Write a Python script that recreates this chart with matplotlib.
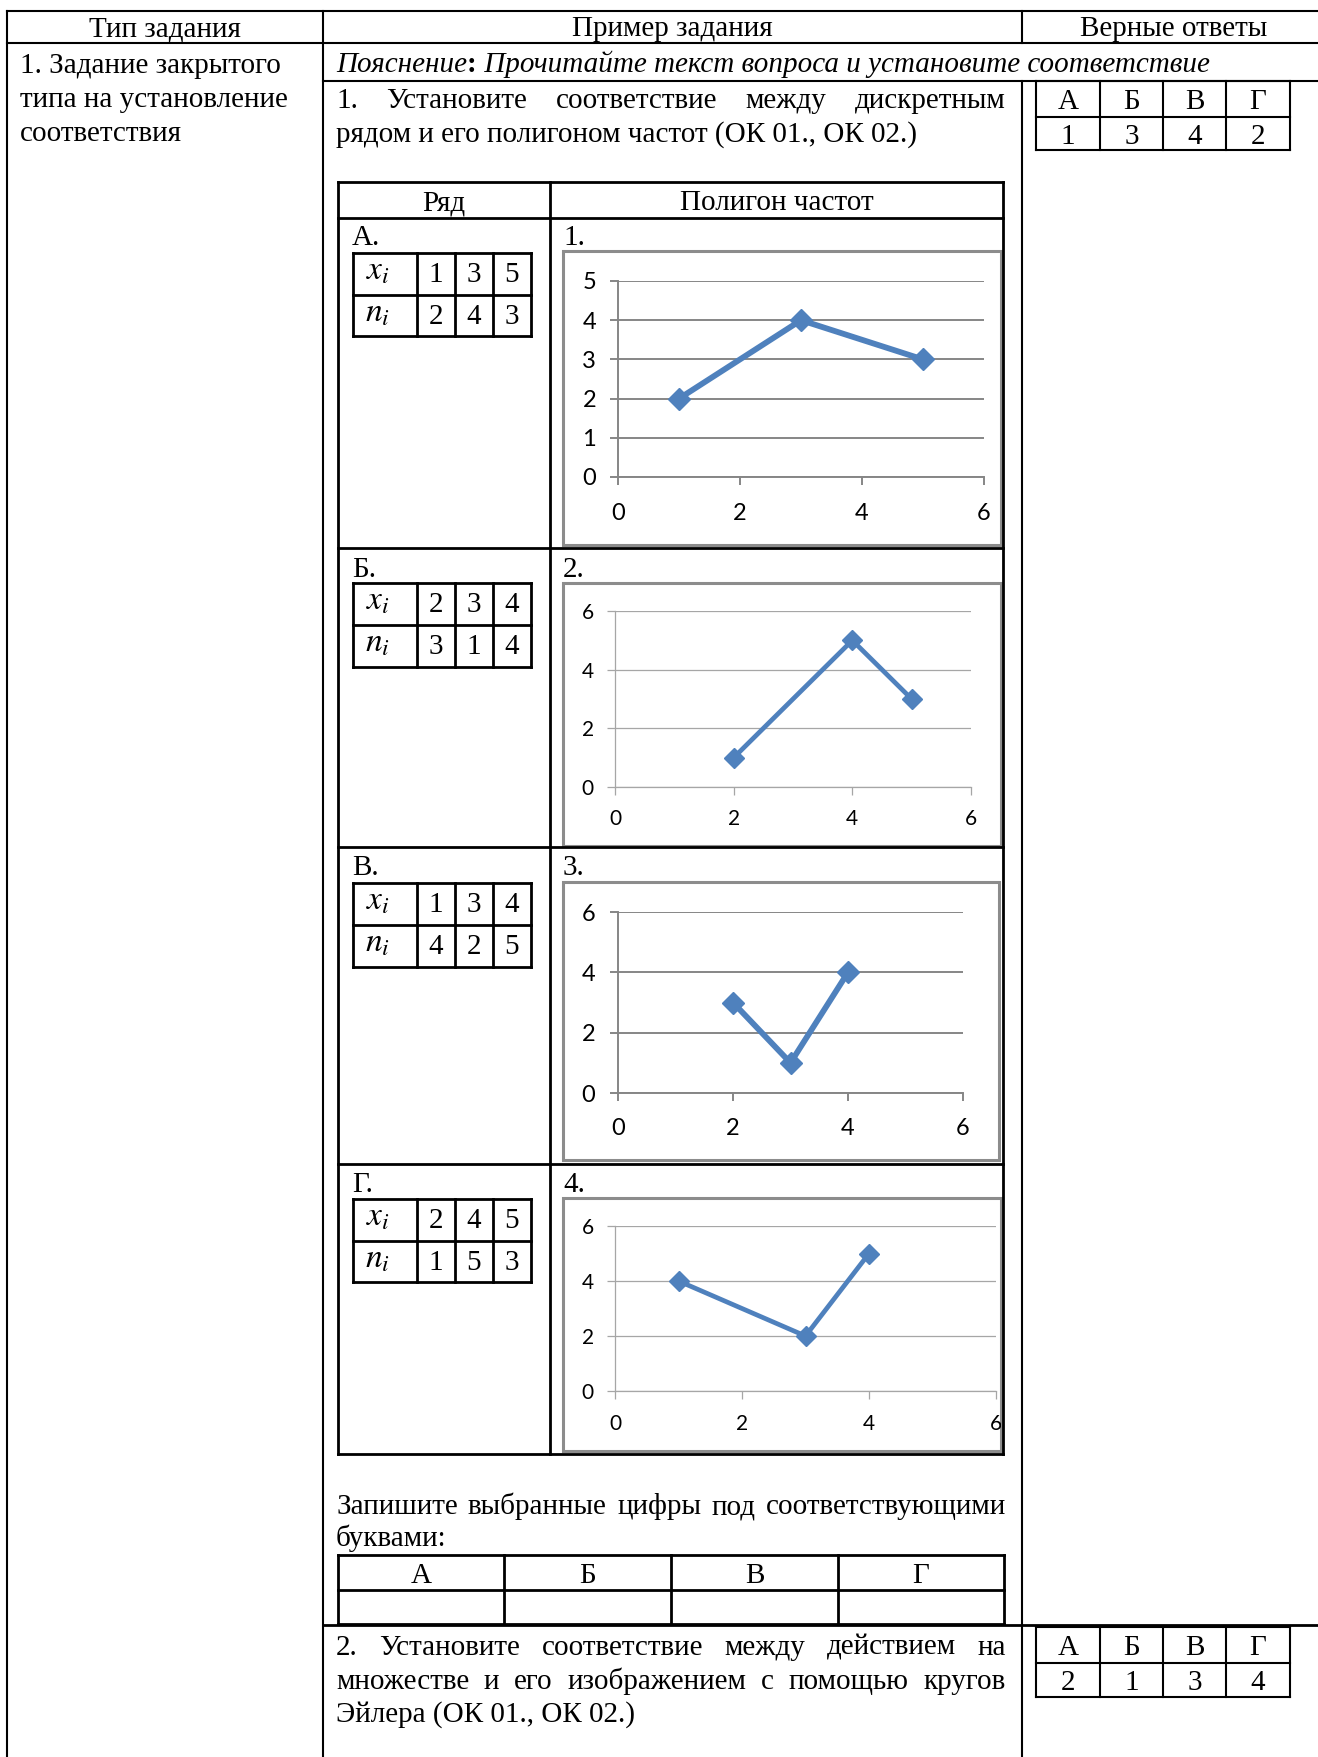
import matplotlib
matplotlib.use('Agg')
import matplotlib.pyplot as plt
from matplotlib.patches import Rectangle

W, H = 1318, 1757
plt.rcParams['mathtext.fontset'] = 'stix'
SERIF = 'Liberation Serif'
CHART_FONT = 'Lato'
FS = 21

# ---------------- data ----------------
letters = ['А', 'Б', 'В', 'Г']
task1_answers = [1, 3, 4, 2]
task2_answers = [2, 1, 3, 4]

row_labels = ['А.', 'Б.', 'В.', 'Г.']
poly_labels = ['1.', '2.', '3.', '4.']

row_a_x = [1, 3, 5]
row_a_n = [2, 4, 3]
row_b_x = [2, 3, 4]
row_b_n = [3, 1, 4]
row_v_x = [1, 3, 4]
row_v_n = [4, 2, 5]
row_g_x = [2, 4, 5]
row_g_n = [1, 5, 3]

poly1_x = [1, 3, 5]
poly1_y = [2, 4, 3]
poly2_x = [2, 4, 5]
poly2_y = [1, 5, 3]
poly3_x = [2, 3, 4]
poly3_y = [3, 1, 4]
poly4_x = [1, 3, 4]
poly4_y = [4, 2, 5]

x_ticks = [0, 2, 4, 6]
poly1_yticks = [0, 1, 2, 3, 4, 5]
poly_yticks = [0, 2, 4, 6]

# ---------------- figure ----------------
fig = plt.figure(figsize=(W / 100, H / 100), dpi=100)
bg = fig.add_axes([0, 0, 1, 1])
bg.set_xlim(0, W)
bg.set_ylim(H, 0)
bg.axis('off')
renderer = fig.canvas.get_renderer()


def hline(y, x0, x1, lw=1.5, color='black'):
    bg.plot([x0, x1], [y, y], color=color, lw=lw, solid_capstyle='projecting')


def vline(x, y0, y1, lw=1.5, color='black'):
    bg.plot([x, x], [y0, y1], color=color, lw=lw, solid_capstyle='projecting')


def txt(x, y, s, ha='left', size=FS, style='normal', weight='normal'):
    return bg.text(x, y, s, ha=ha, va='baseline', fontsize=size, family=SERIF,
                   style=style, weight=weight, color='black')


def width(t):
    return t.get_window_extent(renderer).width


def justify(words, x0, x1, y, size=FS):
    ts = [txt(0, y, w, size=size) for w in words]
    ws = [width(t) for t in ts]
    gap = (x1 - x0 - sum(ws)) / (len(words) - 1)
    x = x0
    for t, w in zip(ts, ws):
        t.set_x(x)
        x += w + gap


def grid_table(xs, ys, lw=1.5):
    for y in ys:
        hline(y, xs[0], xs[-1], lw)
    for x in xs:
        vline(x, ys[0], ys[-1], lw)


# ---------------- outer table ----------------
X_L, X_C1, X_C2 = 7, 323, 1022
hline(11, X_L, W)
hline(43, X_L, W)
vline(X_L, 11, H)
vline(X_C1, 11, H)
vline(X_C2, 11, 43)
vline(X_C2, 81, H)
hline(81, X_C1, W)
hline(1625, X_C1, W, lw=2)

txt(165, 36, 'Тип задания', ha='center')
txt(672, 36, 'Пример задания', ha='center')
txt(1174, 36, 'Верные ответы', ha='center')

txt(20, 73, '1. Задание закрытого')
txt(20, 107, 'типа на установление')
txt(20, 141, 'соответствия')

# Пояснение line
t1 = txt(336, 72, 'Пояснение', style='italic')
x = 336 + width(t1)
t2 = txt(x, 72, ':', weight='bold')
x += width(t2)
txt(x, 72, ' Прочитайте текст вопроса и установите соответствие', style='italic')

justify(['1.', 'Установите', 'соответствие', 'между', 'дискретным'], 336, 1006, 108)
txt(336, 142, 'рядом и его полигоном частот (ОК 01., ОК 02.)')

# answer tables
ans_x = [1036, 1100, 1163, 1226, 1290]


def answer_table(y0, y1, y2, values):
    grid_table(ans_x, [y0, y1, y2])
    for i in range(4):
        cx = (ans_x[i] + ans_x[i + 1]) / 2
        txt(cx, (y0 + y1) / 2 + 10, letters[i], ha='center')
        txt(cx, (y1 + y2) / 2 + 10, str(values[i]), ha='center')


answer_table(81, 117, 150, task1_answers)
answer_table(1627, 1663, 1697, task2_answers)

# ---------------- inner table ----------------
IT_X = [338, 550, 1003]
IT_TOP, IT_HEAD = 182, 218
row_tops = [218, 548, 847, 1164]
IT_BOT = 1454
ILW = 2.0
for y in [IT_TOP, IT_HEAD] + row_tops[1:] + [IT_BOT]:
    hline(y, IT_X[0], IT_X[2], ILW)
for xx in IT_X:
    vline(xx, IT_TOP, IT_BOT, ILW)
txt((IT_X[0] + IT_X[1]) / 2, 210, 'Ряд', ha='center')
txt((IT_X[1] + IT_X[2]) / 2, 210, 'Полигон частот', ha='center')

label_baselines = [245, 577, 875, 1192]
small_tops = [253, 583, 883, 1199]
small_h = [83, 84, 84, 83]
row_x_data = [row_a_x, row_b_x, row_v_x, row_g_x]
row_n_data = [row_a_n, row_b_n, row_v_n, row_g_n]
ST_X = [353, 417, 455, 493, 531]

for i in range(4):
    txt(352, label_baselines[i], row_labels[i])
    txt(563, label_baselines[i], poly_labels[i])
    top = small_tops[i]
    mid = top + small_h[i] / 2
    bot = top + small_h[i]
    grid_table(ST_X, [top, mid, bot], lw=2.0)
    txt(366, top + 27, r'$x_i$', size=24)
    txt(365, mid + 27, r'$n_i$', size=24)
    for j in range(3):
        cx = (ST_X[j + 1] + ST_X[j + 2]) / 2
        txt(cx, top + 29, str(row_x_data[i][j]), ha='center')
        txt(cx, mid + 29, str(row_n_data[i][j]), ha='center')

# ---------------- charts ----------------
boxes = [(563, 251, 1001, 545), (563, 583, 1001, 846),
         (563, 882, 999, 1160), (563, 1198, 1001, 1451)]
for (bx0, by0, bx1, by1) in boxes:
    bg.add_patch(Rectangle((bx0, by0), bx1 - bx0, by1 - by0, fill=False,
                           edgecolor='#8C8C8C', lw=2.2))

BLUE = '#4F81BD'


def make_chart(px0, px6, py0, pytop, ymax, yticks, xs, ys, gcol, glw,
               lsize, llw, ms, xpad, ypad, box):
    ax = fig.add_axes([px0 / W, 1 - py0 / H, (px6 - px0) / W, (py0 - pytop) / H])
    ax.set_facecolor('none')
    ax.set_xlim(0, 6)
    ax.set_ylim(0, ymax)
    ax.set_xticks(x_ticks)
    ax.set_yticks(yticks)
    ax.grid(axis='y', color=gcol, lw=glw)
    ax.set_axisbelow(True)
    for s in ['top', 'right']:
        ax.spines[s].set_visible(False)
    for s in ['left', 'bottom']:
        ax.spines[s].set_color(gcol)
        ax.spines[s].set_linewidth(glw)
    ax.tick_params(axis='both', direction='out', length=5.8, width=glw,
                   color=gcol, labelsize=lsize, labelcolor='black',
                   labelfontfamily=CHART_FONT)
    ax.tick_params(axis='x', pad=xpad)
    ax.tick_params(axis='y', pad=ypad)
    ax.plot(xs, ys, color=BLUE, lw=llw, marker='D', ms=ms, clip_on=False,
            zorder=5)
    clip = Rectangle((box[0], box[1]), box[2] - box[0], box[3] - box[1],
                     transform=bg.transData)
    for lbl in ax.get_xticklabels() + ax.get_yticklabels():
        lbl.set_clip_path(clip)
    return ax


make_chart(618, 984, 477, 281, 5, poly1_yticks, poly1_x, poly1_y,
           '#868686', 1.4, 17, 4.2, 11, 13, 10, boxes[0])
make_chart(615, 971, 787, 611, 6, poly_yticks, poly2_x, poly2_y,
           '#A6A6A6', 0.9, 15, 3.4, 10, 10, 9.5, boxes[1])
make_chart(618, 963, 1093, 912, 6, poly_yticks, poly3_x, poly3_y,
           '#868686', 1.4, 17, 4.2, 11, 12.5, 10.5, boxes[2])
make_chart(615, 996, 1391, 1226, 6, poly_yticks, poly4_x, poly4_y,
           '#A6A6A6', 0.9, 15, 3.4, 10, 10.5, 9.5, boxes[3])

# ---------------- bottom part ----------------
justify(['Запишите', 'выбранные', 'цифры', 'под', 'соответствующими'], 336, 1006, 1514)
txt(336, 1546, 'буквами:')
blank_x = [338, 504, 671, 838, 1004]
grid_table(blank_x, [1555, 1590, 1624], lw=2.0)
for i in range(4):
    txt((blank_x[i] + blank_x[i + 1]) / 2, 1583, letters[i], ha='center')

justify(['2.', 'Установите', 'соответствие', 'между', 'действием', 'на'], 336, 1006, 1655)
justify(['множестве', 'и', 'его', 'изображением', 'с', 'помощью', 'кругов'], 336, 1006, 1689)
txt(336, 1722, 'Эйлера (ОК 01., ОК 02.)')

fig.savefig('out.png', dpi=100)
